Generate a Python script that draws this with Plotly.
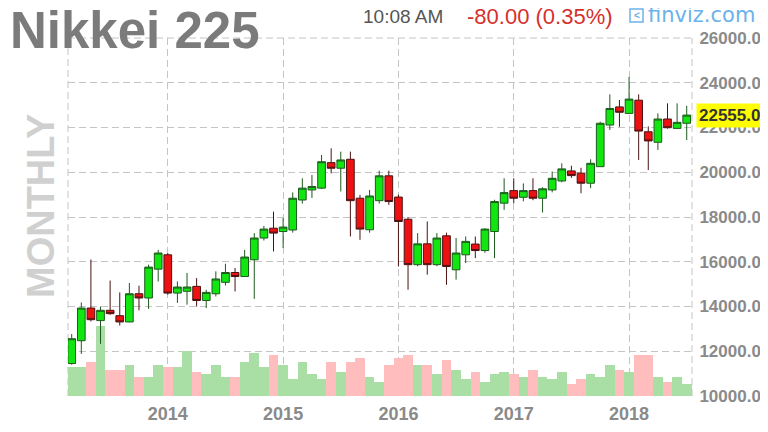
import plotly.graph_objects as go

months = ["2013-03", "2013-04", "2013-05", "2013-06", "2013-07", "2013-08", "2013-09", "2013-10", "2013-11", "2013-12",
          "2014-01", "2014-02", "2014-03", "2014-04", "2014-05", "2014-06", "2014-07", "2014-08", "2014-09", "2014-10",
          "2014-11", "2014-12", "2015-01", "2015-02", "2015-03", "2015-04", "2015-05", "2015-06", "2015-07", "2015-08",
          "2015-09", "2015-10", "2015-11", "2015-12", "2016-01", "2016-02", "2016-03", "2016-04", "2016-05", "2016-06",
          "2016-07", "2016-08", "2016-09", "2016-10", "2016-11", "2016-12", "2017-01", "2017-02", "2017-03", "2017-04",
          "2017-05", "2017-06", "2017-07", "2017-08", "2017-09", "2017-10", "2017-11", "2017-12", "2018-01", "2018-02",
          "2018-03", "2018-04", "2018-05", "2018-06", "2018-07"]

opens = [11450, 12470, 13930, 13370, 13830, 13590, 13310, 14570, 14380, 15670,
         16310, 14600, 14680, 14900, 14270, 14570, 15080, 15520, 15340, 16090,
         17060, 17500, 17350, 17420, 18760, 19210, 19290, 20430, 20180, 20580,
         18840, 17430, 18730, 19840, 18890, 17900, 15870, 16800, 15870, 17160,
         15640, 16310, 16790, 16500, 17350, 18620, 19180, 18880, 19180, 18840,
         19210, 19610, 20060, 19960, 19510, 20250, 22110, 22920, 22630, 23220,
         21810, 21340, 22380, 21960, 22190]
highs = [12770, 14180, 16100, 14000, 15160, 14630, 15050, 14930, 15870, 16530,
         16390, 15120, 15500, 15270, 14750, 15570, 15910, 15720, 16530, 17280,
         17600, 18240, 17950, 19100, 19730, 19880, 20770, 21070, 20920, 20920,
         18990, 19210, 20070, 20070, 19000, 18000, 17280, 17800, 17280, 17300,
         17060, 17130, 17130, 17500, 18770, 19730, 19730, 19500, 19730, 19330,
         20030, 20400, 20290, 20200, 20580, 22260, 23480, 23230, 24260, 23480,
         22050, 22630, 23080, 23080, 22970]
lows = [11400, 11880, 13330, 12330, 13630, 13150, 13300, 13830, 13890, 15120,
        14530, 14160, 14080, 14000, 13930, 14450, 14940, 14670, 15320, 14340,
        16950, 16460, 16610, 17300, 18600, 18850, 19250, 19950, 19140, 17130,
        16980, 17300, 18600, 18540, 15790, 14750, 15800, 15420, 15800, 14970,
        15200, 15940, 16160, 16400, 16160, 18320, 18620, 18700, 18750, 18200,
        19100, 19550, 19750, 19060, 19290, 20250, 21890, 22030, 22600, 20550,
        20100, 21000, 21950, 21950, 21440]
closes = [12560, 13930, 13410, 13830, 13680, 13310, 14570, 14380, 15760, 16390,
          14600, 14870, 14870, 14270, 14630, 15230, 15520, 15340, 16210, 17060,
          17460, 17280, 17550, 18840, 19290, 19360, 20470, 20180, 20550, 18730,
          17460, 18940, 19840, 18690, 17800, 15870, 16800, 15870, 17060, 15790,
          16390, 16910, 16500, 17460, 18690, 19090, 18840, 19180, 18840, 19260,
          19730, 20150, 19850, 19510, 20400, 22190, 22850, 22680, 23270, 21840,
          21400, 22380, 21990, 22230, 22555]
# relative monthly volume (arbitrary units)
volumes = [293, 293, 337, 700, 260, 260, 313, 193, 193, 313,
           287, 287, 447, 240, 217, 313, 193, 193, 337, 433,
           287, 407, 313, 167, 337, 217, 167, 337, 240, 337,
           383, 193, 143, 313, 383, 407, 313, 313, 217, 360,
           263, 167, 240, 143, 217, 240, 217, 193, 263, 193,
           167, 240, 120, 167, 217, 193, 313, 263, 240, 407,
           407, 193, 143, 193, 120]

price_ticks = [10000, 12000, 14000, 16000, 18000, 20000, 22000, 24000, 26000]
last_price_label = "22555.0"
change_text = "-80.00 (0.35%)"
time_text = "10:08 AM"

xs = list(range(len(months)))
year_ticks = [i for i, m in enumerate(months) if m.endswith("-01")]
year_text = [months[i][:4] for i in year_ticks]
vol_colors = ["#a9dea4" if c >= o else "#ffbdbd" for o, c in zip(opens, closes)]

FONT = "Liberation Sans, Arial, sans-serif"
GRID = "#c4c4c4"
DASH = "7px,4px"
# the page body adds an 8px offset, so the figure is 760x424 to fill the 768x432 window
OFF = 8
W, H = 760, 424
L, T = 60, 30
PW, PH = 624, 358
R, B = W - L - PW, H - T - PH

fig = go.Figure()
fig.add_trace(go.Bar(x=xs, y=volumes, marker=dict(color=vol_colors, line=dict(width=0)),
                     width=1.0, yaxis="y", showlegend=False, hoverinfo="skip"))
fig.add_trace(go.Candlestick(
    x=xs, open=opens, high=highs, low=lows, close=closes, yaxis="y2",
    increasing=dict(line=dict(color="#1d5a1d", width=1), fillcolor="#11e611"),
    decreasing=dict(line=dict(color="#4a1212", width=1), fillcolor="#ee1111"),
    whiskerwidth=0, showlegend=False))

fig.update_layout(
    template="none",
    width=W, height=H,
    margin=dict(l=L, r=R, t=T, b=B, autoexpand=False),
    paper_bgcolor="white", plot_bgcolor="white",
    boxgap=0.2, boxgroupgap=0, bargap=0,
    font=dict(family=FONT),
    showlegend=False,
    xaxis=dict(range=[-0.385, 64.55], tickvals=year_ticks, ticktext=year_text,
               automargin=False,
               showgrid=True, gridcolor=GRID, griddash=DASH, gridwidth=1,
               zeroline=False, showline=False, rangeslider=dict(visible=False),
               ticks="outside", ticklen=1, tickcolor="rgba(0,0,0,0)",
               tickfont=dict(family=FONT, size=18, color="#8a8a8a", weight="bold")),
    yaxis=dict(range=[0, PH * 10], visible=False, showgrid=False, fixedrange=True,
               automargin=False),
    yaxis2=dict(range=[10000, 26000], overlaying="y", side="right",
                tickvals=price_ticks, tickformat=".1f", automargin=False,
                showgrid=True, gridcolor=GRID, griddash=DASH, gridwidth=1,
                zeroline=False, showline=False,
                ticks="outside", ticklen=3, tickcolor="rgba(0,0,0,0)",
                tickfont=dict(family=FONT, size=17, color="#8a8a8a", weight="bold")),
)

# dashed chart frame
for x0, y0, x1, y1 in [(0, 0, 0, 1), (1, 0, 1, 1), (0, 1, 1, 1)]:
    fig.add_shape(type="line", xref="paper", yref="paper", x0=x0, y0=y0, x1=x1, y1=y1,
                  line=dict(color=GRID, width=1, dash=DASH), layer="below")

def px_x(px):
    # window pixel -> paper x
    return (px - OFF - L) / PW

def px_y(py):
    # window pixel -> paper y
    return (OFF + T + PH - py) / PH

fig.add_annotation(text="<b>Nikkei 225</b>", xref="paper", yref="paper",
                   x=px_x(8), y=px_y(30), xanchor="left", yanchor="middle", showarrow=False,
                   font=dict(family=FONT, size=51, color="#7b7b7b"))
fig.add_annotation(text="<b>MONTHLY</b>", xref="paper", yref="paper", textangle=-90,
                   x=px_x(41), y=px_y(206), xanchor="center", yanchor="middle", showarrow=False,
                   font=dict(family=FONT, size=38, color="#d0d0d0"))
fig.add_annotation(text=time_text, xref="paper", yref="paper",
                   x=px_x(403), y=px_y(17), xanchor="center", yanchor="middle", showarrow=False,
                   font=dict(family=FONT, size=19, color="#555555"))
fig.add_annotation(text=change_text, xref="paper", yref="paper",
                   x=px_x(540), y=px_y(17), xanchor="center", yanchor="middle", showarrow=False,
                   font=dict(family=FONT, size=22, color="#d6302b"))
fig.add_annotation(text="finviz.com", xref="paper", yref="paper",
                   x=px_x(646), y=px_y(15), xanchor="left", yanchor="middle", showarrow=False,
                   font=dict(family="DejaVu Sans, Verdana, sans-serif", size=21, color="#6cb2ea"))
fig.add_shape(type="rect", xref="paper", yref="paper",
              x0=px_x(630), x1=px_x(643), y0=px_y(22), y1=px_y(9),
              line=dict(color="#6cb2ea", width=1.5))
fig.add_annotation(text="<b>&lt;</b>", xref="paper", yref="paper",
                   x=px_x(636.5), y=px_y(15.5), xanchor="center", yanchor="middle", showarrow=False,
                   font=dict(family=FONT, size=10, color="#6cb2ea"))
fig.add_annotation(text="<b>" + last_price_label + "</b>", xref="paper", yref="y2",
                   x=1, y=closes[-1], xanchor="left", yanchor="middle", xshift=4, showarrow=False,
                   bgcolor="#ffff00", borderpad=2,
                   font=dict(family=FONT, size=17, color="#333333"))

fig.write_html("out.html")
